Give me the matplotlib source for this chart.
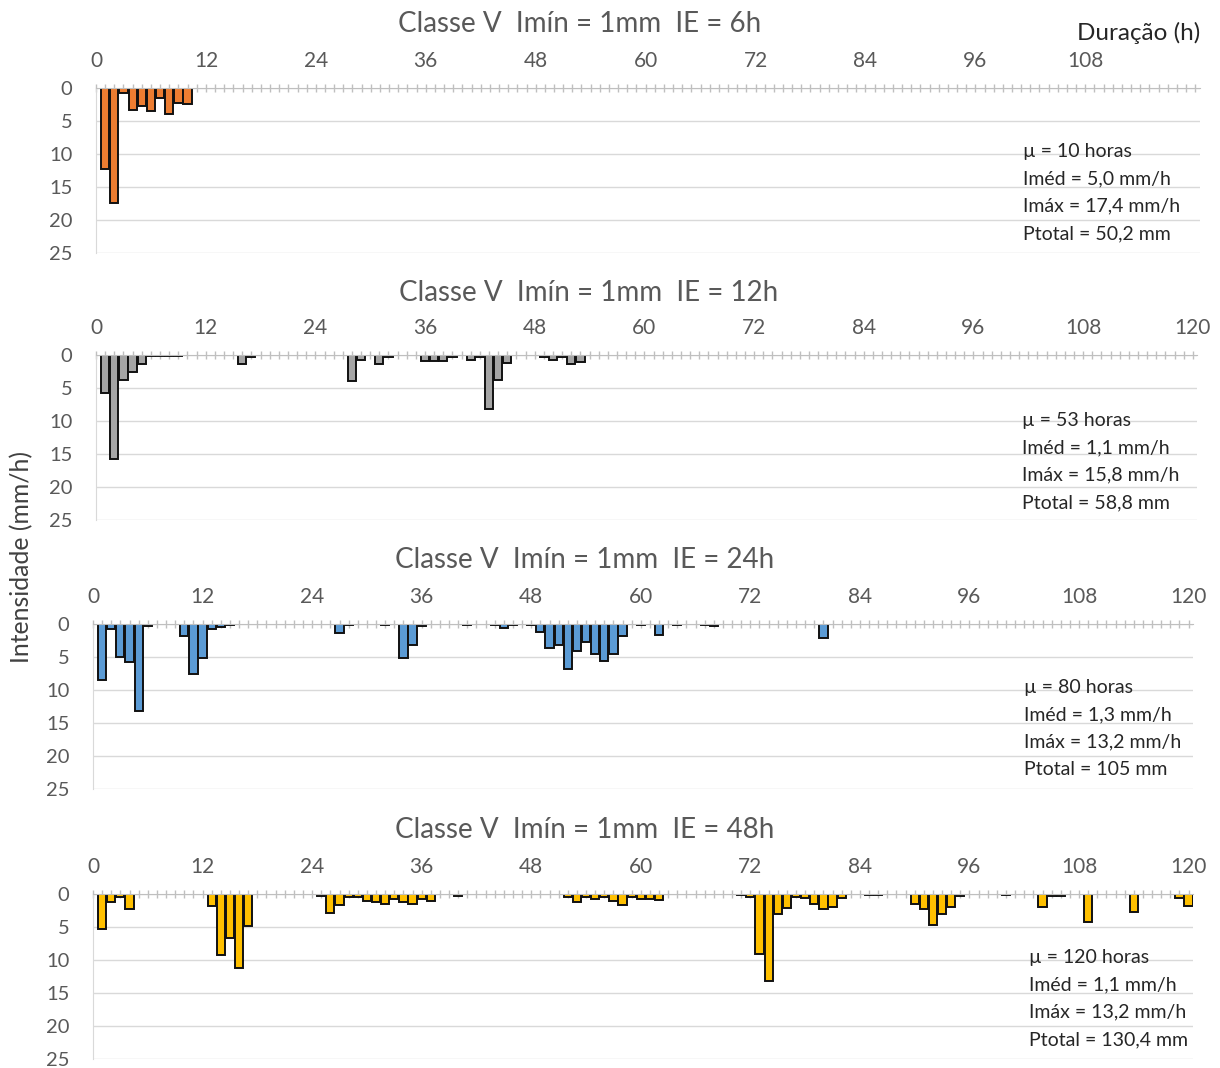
import matplotlib
matplotlib.use("Agg")
import matplotlib.pyplot as plt

plt.rcParams['font.family'] = ['Lato', 'DejaVu Sans']

# dados (hora, intensidade mm/h)
ie6_hours = [1, 2, 3, 4, 5, 6, 7, 8, 9, 10]
ie6_vals = [12.3, 17.4, 0.7, 3.3, 2.8, 3.5, 1.5, 4.0, 2.3, 2.4]

ie12_hours = [1, 2, 3, 4, 5, 6, 7, 8, 9, 16, 17, 28, 29, 31, 32, 36, 37, 38, 39,
              41, 42, 43, 44, 45, 49, 50, 51, 52, 53]
ie12_vals = [5.8, 15.8, 3.8, 2.6, 1.3, 0.2, 0.2, 0.2, 0.2, 1.4, 0.3, 4.0, 0.8, 1.3, 0.3,
             0.9, 0.9, 0.9, 0.3, 0.8, 0.3, 8.2, 3.8, 1.2, 0.3, 0.8, 0.3, 1.3, 1.1]

ie24_hours = [1, 2, 3, 4, 5, 6, 10, 11, 12, 13, 14, 15, 27, 28, 32, 34, 35, 36, 41, 44,
              45, 46, 48, 49, 50, 51, 52, 53, 54, 55, 56, 57, 58, 60, 62, 64, 67, 68, 80]
ie24_vals = [8.5, 0.7, 5.0, 5.8, 13.2, 0.3, 1.8, 7.5, 5.1, 0.8, 0.5, 0.2, 1.3, 0.2, 0.2,
             5.1, 3.2, 0.3, 0.2, 0.2, 0.6, 0.2, 0.2, 1.2, 3.7, 3.2, 6.8, 4.1, 2.8, 4.6,
             5.6, 4.5, 1.8, 0.2, 1.6, 0.2, 0.2, 0.3, 2.1]

ie48_hours = [1, 2, 3, 4, 13, 14, 15, 16, 17, 25, 26, 27, 28, 29, 30, 31, 32, 33, 34,
              35, 36, 37, 40, 52, 53, 54, 55, 56, 57, 58, 59, 60, 61, 62, 71, 72, 73,
              74, 75, 76, 77, 78, 79, 80, 81, 82, 85, 86, 90, 91, 92, 93, 94, 95, 100,
              104, 105, 106, 109, 114, 119, 120]
ie48_vals = [5.3, 1.2, 0.5, 2.2, 1.8, 9.3, 6.6, 11.2, 4.9, 0.3, 2.9, 1.7, 0.5, 0.5,
             1.0, 1.2, 1.5, 0.8, 1.2, 1.5, 0.8, 1.0, 0.3, 0.4, 1.2, 0.4, 0.8, 0.4,
             1.0, 1.6, 0.4, 0.8, 0.8, 0.9, 0.2, 0.4, 9.1, 13.2, 3.0, 2.1, 0.4, 0.6,
             1.5, 2.3, 1.9, 0.6, 0.2, 0.2, 1.5, 2.3, 4.75, 3.0, 1.9, 0.3, 0.2, 1.9,
             0.3, 0.3, 4.2, 2.8, 0.6, 1.8]

titles = ['Classe V  Imín = 1mm  IE = 6h', 'Classe V  Imín = 1mm  IE = 12h',
          'Classe V  Imín = 1mm  IE = 24h', 'Classe V  Imín = 1mm  IE = 48h']
stats = [['µ = 10 horas', 'Iméd = 5,0 mm/h', 'Imáx = 17,4 mm/h', 'Ptotal = 50,2 mm'],
         ['µ = 53 horas', 'Iméd = 1,1 mm/h', 'Imáx = 15,8 mm/h', 'Ptotal = 58,8 mm'],
         ['µ = 80 horas', 'Iméd = 1,3 mm/h', 'Imáx = 13,2 mm/h', 'Ptotal = 105 mm'],
         ['µ = 120 horas', 'Iméd = 1,1 mm/h', 'Imáx = 13,2 mm/h', 'Ptotal = 130,4 mm']]
colors = ['#ED7D31', '#A5A5A5', '#5B9BD5', '#FFC000']
xticks = list(range(0, 121, 12))
yticks = [0, 5, 10, 15, 20, 25]

W, H = 1220, 1068
fig = plt.figure(figsize=(W / 100, H / 100), dpi=100)

# posição de cada painel em pixels: x do zero, px por hora, y do zero, x do texto, y do título, x do título
layout = [(96, 9.16, 88, 1023, 22, 580),
          (96, 9.14, 355, 1022, 291, 589),
          (93, 9.13, 624, 1024, 558, 585),
          (93, 9.13, 894, 1029, 828, 585)]
data = [(ie6_hours, ie6_vals), (ie12_hours, ie12_vals),
        (ie24_hours, ie24_vals), (ie48_hours, ie48_vals)]

xmax = 120.5
for i, ((hrs, vals), (x0, pph, y0, tx, ty, tcx)) in enumerate(zip(data, layout)):
    h_px = 25 * 6.6
    ax = fig.add_axes([x0 / W, 1 - (y0 + h_px) / H, xmax * pph / W, h_px / H])
    ax.bar(hrs, vals, width=0.9, color=colors[i], edgecolor='#111111', linewidth=1.4,
           zorder=3)
    ax.set_xlim(0, xmax)
    ax.set_ylim(25, 0)
    ax.xaxis.tick_top()
    ax.set_xticks(xticks)
    labels = [str(t) for t in xticks]
    if i == 0:
        labels[-1] = ''
    ax.set_xticklabels(labels)
    ax.set_xticks(range(0, 121), minor=True)
    ax.tick_params(axis='x', which='both', direction='inout', length=6, width=1,
                   color='#bfbfbf', labelsize=15, labelcolor='#595959', pad=9.5)
    ax.set_yticks(yticks)
    ax.tick_params(axis='y', length=0, labelsize=14.5, labelcolor='#595959', pad=17)
    ax.grid(axis='y', color='#d9d9d9', linewidth=1, zorder=0)
    for s in ['right', 'bottom']:
        ax.spines[s].set_visible(False)
    ax.spines['left'].set_color('#d9d9d9')
    ax.spines['top'].set_color('#bfbfbf')
    ax.spines['top'].set_zorder(4)

    fig.text(tcx / W, 1 - (ty + 2) / H, titles[i], ha='center', va='center',
             fontsize=20, color='#595959')
    for k, line in enumerate(stats[i]):
        fig.text(tx / W, 1 - (ty + 129 + 27.5 * k) / H, line, ha='left', va='center',
                 fontsize=14, color='#262626')

fig.text(1200 / W, 1 - 33 / H, 'Duração (h)', ha='right', va='center', fontsize=17.5,
         color='#262626')
fig.text(22 / W, 1 - 557 / H, 'Intensidade (mm/h)', ha='center', va='center',
         rotation=90, fontsize=17.8, color='#404040')

fig.savefig('out.png', dpi=100)
